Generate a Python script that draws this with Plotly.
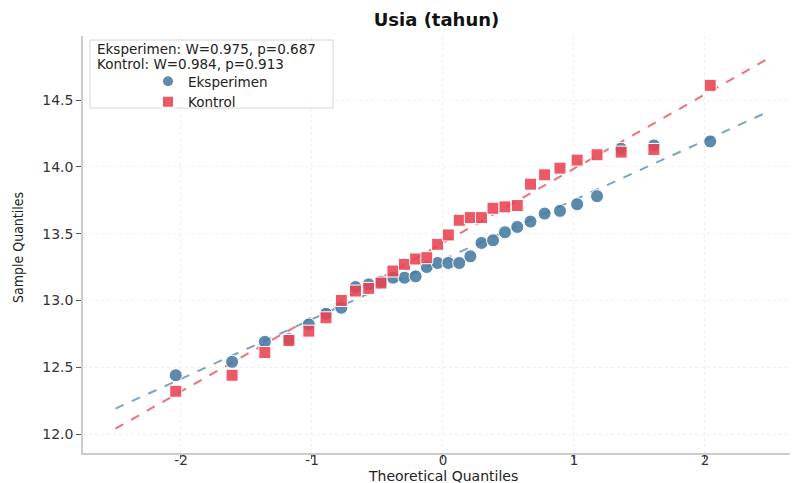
import plotly.graph_objects as go

# Theoretical quantiles (n = 30)
theoretical = [-2.040, -1.610, -1.360, -1.176, -1.024, -0.893, -0.776, -0.668, -0.567, -0.473,
               -0.382, -0.294, -0.209, -0.124, -0.041, 0.041, 0.124, 0.209, 0.294, 0.382,
               0.473, 0.567, 0.668, 0.776, 0.893, 1.024, 1.176, 1.360, 1.610, 2.040]

eksperimen = [12.44, 12.54, 12.69, 12.71, 12.82, 12.90, 12.945, 13.10, 13.12, 13.14,
              13.17, 13.17, 13.18, 13.25, 13.28, 13.28, 13.28, 13.33, 13.43, 13.45,
              13.51, 13.55, 13.59, 13.65, 13.67, 13.72, 13.78, 14.135, 14.16, 14.19]

kontrol = [12.32, 12.44, 12.61, 12.70, 12.77, 12.87, 13.00, 13.07, 13.09, 13.13,
           13.22, 13.27, 13.31, 13.32, 13.42, 13.49, 13.60, 13.62, 13.62, 13.69,
           13.70, 13.71, 13.87, 13.94, 13.99, 14.05, 14.09, 14.11, 14.13, 14.61]

# Reference lines (end points)
fit_x = [-2.5, 2.5]
fit_eksperimen = [12.19, 14.42]
fit_kontrol = [12.04, 14.82]

x_ticks = [-2, -1, 0, 1, 2]
y_ticks = [12.0, 12.5, 13.0, 13.5, 14.0, 14.5]

stats_lines = ["Eksperimen: W=0.975, p=0.687", "Kontrol: W=0.984, p=0.913"]
title_text = "Usia (tahun)"
x_title = "Theoretical Quantiles"
y_title = "Sample Quantiles"

blue = "rgba(70,122,162,0.88)"
red = "rgba(232,66,82,0.88)"

fig = go.Figure()
fig.add_trace(go.Scatter(x=fit_x, y=fit_eksperimen, mode="lines", showlegend=False,
                         line=dict(color="rgba(100,148,182,0.85)", width=2, dash="dash"),
                         hoverinfo="skip"))
fig.add_trace(go.Scatter(x=fit_x, y=fit_kontrol, mode="lines", showlegend=False,
                         line=dict(color="rgba(236,96,106,0.9)", width=2, dash="dash"),
                         hoverinfo="skip"))
fig.add_trace(go.Scatter(x=theoretical, y=eksperimen, mode="markers", name="Eksperimen",
                         marker=dict(symbol="circle", size=13, color=blue,
                                     line=dict(color="white", width=1))))
fig.add_trace(go.Scatter(x=theoretical, y=kontrol, mode="markers", name="Kontrol",
                         marker=dict(symbol="square", size=12, color=red,
                                     line=dict(color="white", width=1))))

L, R, T, B = 83, 2, 36, 30
W, H = 792, 483
pw, ph = W - L - R, H - T - B


def px_x(x):
    return (x - L) / pw


def px_y(y):
    return ((H - B) - y) / ph


annotations = [
    dict(text=x_title, xref="paper", yref="paper", x=px_x(443), y=px_y(476),
         xanchor="center", yanchor="middle", showarrow=False,
         font=dict(family="DejaVu Sans", size=14, color="#222")),
    dict(text=y_title, xref="paper", yref="paper", x=px_x(18), y=px_y(248),
         xanchor="center", yanchor="middle", showarrow=False, textangle=-90,
         font=dict(family="Liberation Sans Narrow, DejaVu Sans Condensed, sans-serif",
                   size=14, color="#222")),
]
for i, line in enumerate(stats_lines):
    annotations.append(dict(text=line, xref="paper", yref="paper", x=px_x(95), y=px_y(49 + 15 * i),
                            xanchor="left", yanchor="middle", showarrow=False,
                            font=dict(family="DejaVu Sans", size=13.5, color="#222")))

fig.update_layout(
    width=W, height=H,
    margin=dict(l=L, r=R, t=T, b=B, autoexpand=False),
    paper_bgcolor="white", plot_bgcolor="white",
    title=dict(text="<b>" + title_text + "</b>", x=(L + pw / 2) / W, xanchor="center",
               y=1 - 20 / H, yanchor="middle",
               font=dict(family="DejaVu Sans", size=18, color="#111")),
    font=dict(family="DejaVu Sans", size=13, color="#333"),
    showlegend=True,
    legend=dict(x=px_x(148), y=px_y(66), xanchor="left", yanchor="top",
                bgcolor="rgba(0,0,0,0)", borderwidth=0,
                font=dict(family="DejaVu Sans", size=13.5, color="#222"),
                tracegroupgap=0, itemsizing="constant"),
    shapes=[dict(type="rect", xref="paper", yref="paper",
                 x0=px_x(90), x1=px_x(333), y0=px_y(108), y1=px_y(40),
                 line=dict(color="#d6d6d6", width=1), fillcolor="rgba(255,255,255,0.85)",
                 layer="above")],
    xaxis=dict(range=[-2.748, 2.649], tickvals=x_ticks, ticktext=[str(v) for v in x_ticks],
               showgrid=True, gridcolor="#eeeeee", griddash="dot", zeroline=False,
               showline=True, linecolor="#cccccc", linewidth=1.5, automargin=False,
               ticks="outside", ticklen=4, tickcolor="#555", ticklabelstandoff=-10,
               tickfont=dict(family="DejaVu Sans", size=13.5, color="#333")),
    yaxis=dict(range=[11.858, 14.979], tickvals=y_ticks, ticktext=["%.1f" % v for v in y_ticks],
               showgrid=True, gridcolor="#eeeeee", griddash="dot", zeroline=False,
               showline=True, linecolor="#cccccc", linewidth=1.5, automargin=False,
               ticks="outside", ticklen=5, tickcolor="#555",
               tickfont=dict(family="DejaVu Sans", size=14, color="#333")),
    annotations=annotations,
)

fig.write_html("out.html", config={"displayModeBar": False},
               post_script="document.body.style.margin='0';document.body.style.padding='0';window.dispatchEvent(new Event('resize'));")
